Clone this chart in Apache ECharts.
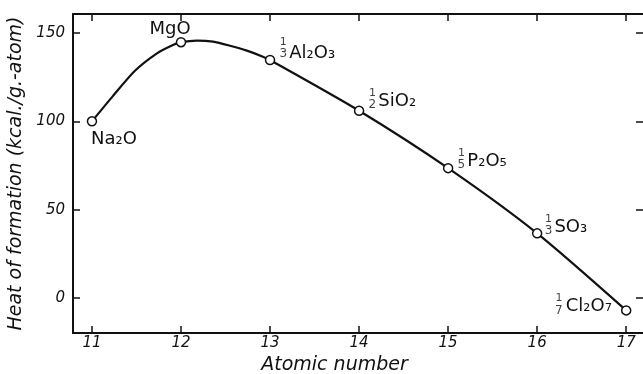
<!DOCTYPE html>
<html>
<head>
<meta charset="utf-8">
<script src="https://cdn.jsdelivr.net/npm/echarts@6/dist/echarts.min.js"></script>
<style>html,body{margin:0;padding:0;background:#fff}#c{width:643px;height:374px}</style>
</head>
<body>
<div id="c"></div>
<script>
// Marker data (atomic number, heat of formation)
const atomicNumbers = [11, 12, 13, 14, 15, 16, 17];
const heats = [100, 144.8, 134.7, 106, 73.5, 36.6, -7];
const compounds = ['Na₂O', 'MgO', 'Al₂O₃', 'SiO₂', 'P₂O₅', 'SO₃', 'Cl₂O₇'];
const fracNumerators = ['', '', '1', '1', '1', '1', '1'];
const fracDenominators = ['', '', '3', '2', '5', '3', '7'];
// Smooth curve points
const curveX = [11, 11.23, 11.48, 11.73, 11.91, 12, 12.18, 12.36, 12.55, 12.74, 12.92, 13, 14, 15, 16, 17];
const curveY = [100, 114, 128.5, 138.5, 143.2, 144.8, 145.7, 145.1, 142.8, 140, 136.6, 134.7, 106, 73.5, 36.6, -7];
const xTicks = [11, 12, 13, 14, 15, 16, 17];
const yTicks = [0, 50, 100, 150];

// label placement (style only)
const mainPlacement = [
  {position: 'bottom', offset: [22, 0], distance: 4},
  {position: 'top', offset: [-11, 6], distance: 5},
  {position: 'right', offset: [9, -7], distance: 5},
  {position: 'right', offset: [9, -9], distance: 5},
  {position: 'right', offset: [9, -7], distance: 5},
  {position: 'right', offset: [9, -6], distance: 3},
  {position: 'left', offset: [0, -4], distance: 9}
];
const fracPlacement = [
  null, null,
  {position: 'right', offset: [0, -12], distance: 5},
  {position: 'right', offset: [0, -12], distance: 5},
  {position: 'right', offset: [0, -9], distance: 5},
  {position: 'right', offset: [0, -8], distance: 3},
  {position: 'left', offset: [-50, -6], distance: 9}
];

const chart = echarts.init(document.getElementById('c'));
const ink = '#111';
const tickFont = {fontFamily: 'DejaVu Sans', fontStyle: 'italic', fontSize: 15, color: ink};
const axisLine = {show: true, onZero: false, lineStyle: {color: ink, width: 2}};
const tickStyle = {color: ink, width: 1.5};
const xMin = 10.787, xMax = 17.2, yMin = -19.8, yMax = 160.75;

const mainFont = {fontFamily: 'DejaVu Sans', fontSize: 18, color: ink};

chart.setOption({
  animation: false,
  backgroundColor: '#fff',
  grid: {left: 73, right: -1, top: 14, bottom: 41, outerBoundsMode: 'none', containLabel: false},
  xAxis: [{
    type: 'value', min: xMin, max: xMax, position: 'bottom',
    axisLine: axisLine, splitLine: {show: false},
    axisTick: {show: true, inside: true, length: 7, customValues: xTicks, lineStyle: tickStyle},
    axisLabel: {customValues: xTicks, ...tickFont, margin: 3},
    name: 'Atomic number', nameLocation: 'middle', nameGap: 22,
    nameTextStyle: {fontFamily: 'DejaVu Sans', fontStyle: 'italic', fontSize: 19, color: ink, padding: [0, 48, 0, 0]}
  }, {
    type: 'value', min: xMin, max: xMax, position: 'top',
    axisLine: axisLine, splitLine: {show: false},
    axisTick: {show: true, inside: true, length: 7, customValues: xTicks, lineStyle: tickStyle},
    axisLabel: {show: false}
  }],
  yAxis: [{
    type: 'value', min: yMin, max: yMax, position: 'left',
    axisLine: axisLine, splitLine: {show: false},
    axisTick: {show: true, inside: true, length: 7, customValues: yTicks, lineStyle: tickStyle},
    axisLabel: {customValues: yTicks, ...tickFont, margin: 8},
    name: 'Heat of formation (kcal./g.-atom)', nameLocation: 'middle', nameGap: 47,
    nameTextStyle: {fontFamily: 'DejaVu Sans', fontStyle: 'italic', fontSize: 19, color: ink}
  }, {
    type: 'value', min: yMin, max: yMax, position: 'right',
    axisLine: axisLine, splitLine: {show: false},
    axisTick: {show: true, inside: true, length: 8, customValues: yTicks, lineStyle: tickStyle},
    axisLabel: {show: false}
  }],
  series: [{
    type: 'line', smooth: 0.25, symbol: 'none',
    data: curveX.map((x, i) => [x, curveY[i]]),
    lineStyle: {color: ink, width: 2.2}, z: 2
  }, {
    type: 'scatter', symbol: 'circle', symbolSize: 9,
    itemStyle: {color: '#fff', borderColor: ink, borderWidth: 1.5, opacity: 1},
    z: 3,
    data: atomicNumbers.map((x, i) => ({
      value: [x, heats[i]],
      label: {show: true, formatter: compounds[i], ...mainPlacement[i], ...mainFont}
    }))
  }, {
    type: 'scatter', symbol: 'circle', symbolSize: 9, z: 1, silent: true,
    itemStyle: {color: 'rgba(0,0,0,0)', borderWidth: 0},
    data: atomicNumbers.map((x, i) => fracNumerators[i] ? {
      value: [x, heats[i]],
      label: {show: true, ...fracPlacement[i],
        formatter: '{n|' + fracNumerators[i] + '}\n{d|' + fracDenominators[i] + '}',
        rich: {
          n: {fontFamily: 'DejaVu Sans', fontSize: 11, lineHeight: 12, color: ink, align: 'center'},
          d: {fontFamily: 'DejaVu Sans', fontSize: 12, lineHeight: 12, color: ink, align: 'center'}
        }}
    } : {value: [x, heats[i]], label: {show: false}})
  }]
});
</script>
</body>
</html>
